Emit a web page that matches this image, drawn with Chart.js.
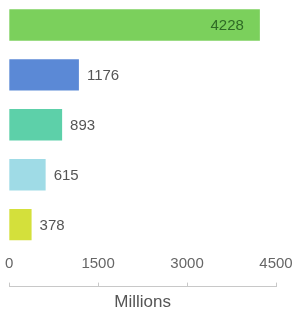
<!DOCTYPE html>
<html>
<head>
<meta charset="utf-8">
<script src="https://cdn.jsdelivr.net/npm/chart.js@4.4.1/dist/chart.umd.min.js"></script>
<style>
  html, body { margin: 0; padding: 0; background: #fff; }
  #wrap { width: 298px; height: 313px; }
</style>
</head>
<body>
<div id="wrap"><canvas id="chart"></canvas></div>
<script>
const categorias = ['A', 'B', 'C', 'D', 'E'];
const valores = [4228, 1176, 893, 615, 378];
const colores = ['#7bd05c', '#5b89d6', '#5dd0a9', '#9fdbe6', '#d4e03b'];
const ticksX = [0, 1500, 3000, 4500];

const FONT = 'Helvetica, Arial, "Liberation Sans", sans-serif';

// etiquetas de valor: dentro de la barra si es muy larga, fuera si no
const etiquetas = {
  id: 'etiquetas',
  afterDatasetsDraw(chart) {
    const ctx = chart.ctx;
    const meta = chart.getDatasetMeta(0);
    ctx.save();
    ctx.font = '15px ' + FONT;
    ctx.textBaseline = 'middle';
    meta.data.forEach((bar, i) => {
      const txt = String(valores[i]);
      const w = ctx.measureText(txt).width;
      if (bar.x + 7 + w > chart.chartArea.right) {
        ctx.fillStyle = '#2f6a25';
        ctx.textAlign = 'right';
        ctx.fillText(txt, bar.x - 16, bar.y + 1);
      } else {
        ctx.fillStyle = '#555';
        ctx.textAlign = 'left';
        ctx.fillText(txt, bar.x + 8, bar.y + 1);
      }
    });
    ctx.restore();
  }
};

new Chart(document.getElementById('chart').getContext('2d'), {
  type: 'bar',
  data: {
    labels: categorias,
    datasets: [{
      data: valores,
      backgroundColor: colores,
      borderWidth: 0,
      barPercentage: 0.63,
      categoryPercentage: 1
    }]
  },
  options: {
    indexAxis: 'y',
    responsive: true,
    maintainAspectRatio: false,
    animation: false,
    layout: { padding: { left: 8, right: 22, top: 0, bottom: 0 } },
    plugins: { legend: { display: false }, tooltip: { enabled: false } },
    scales: {
      y: { display: false },
      x: {
        position: 'bottom',
        min: 0, max: 4500,
        afterBuildTicks: s => { s.ticks = ticksX.map(v => ({ value: v })); },
        afterFit: s => { s.height += 9; },
        grid: { display: false, drawTicks: false },
        border: { display: false },
        ticks: { padding: 5, color: '#666', font: { size: 15, family: FONT }, callback: v => String(v) }
      },
      x2: {
        position: 'bottom',
        min: 0, max: 4500,
        afterBuildTicks: s => { s.ticks = ticksX.map(v => ({ value: v })); },
        grid: { drawOnChartArea: false, tickLength: -4, color: '#c8c8c8' },
        border: { display: true, color: '#c8c8c8' },
        ticks: { display: false },
        title: { display: true, text: 'Millions', color: '#555', padding: { top: 10, bottom: 0 }, font: { size: 17, family: FONT } }
      }
    }
  },
  plugins: [etiquetas]
});
</script>
</body>
</html>
